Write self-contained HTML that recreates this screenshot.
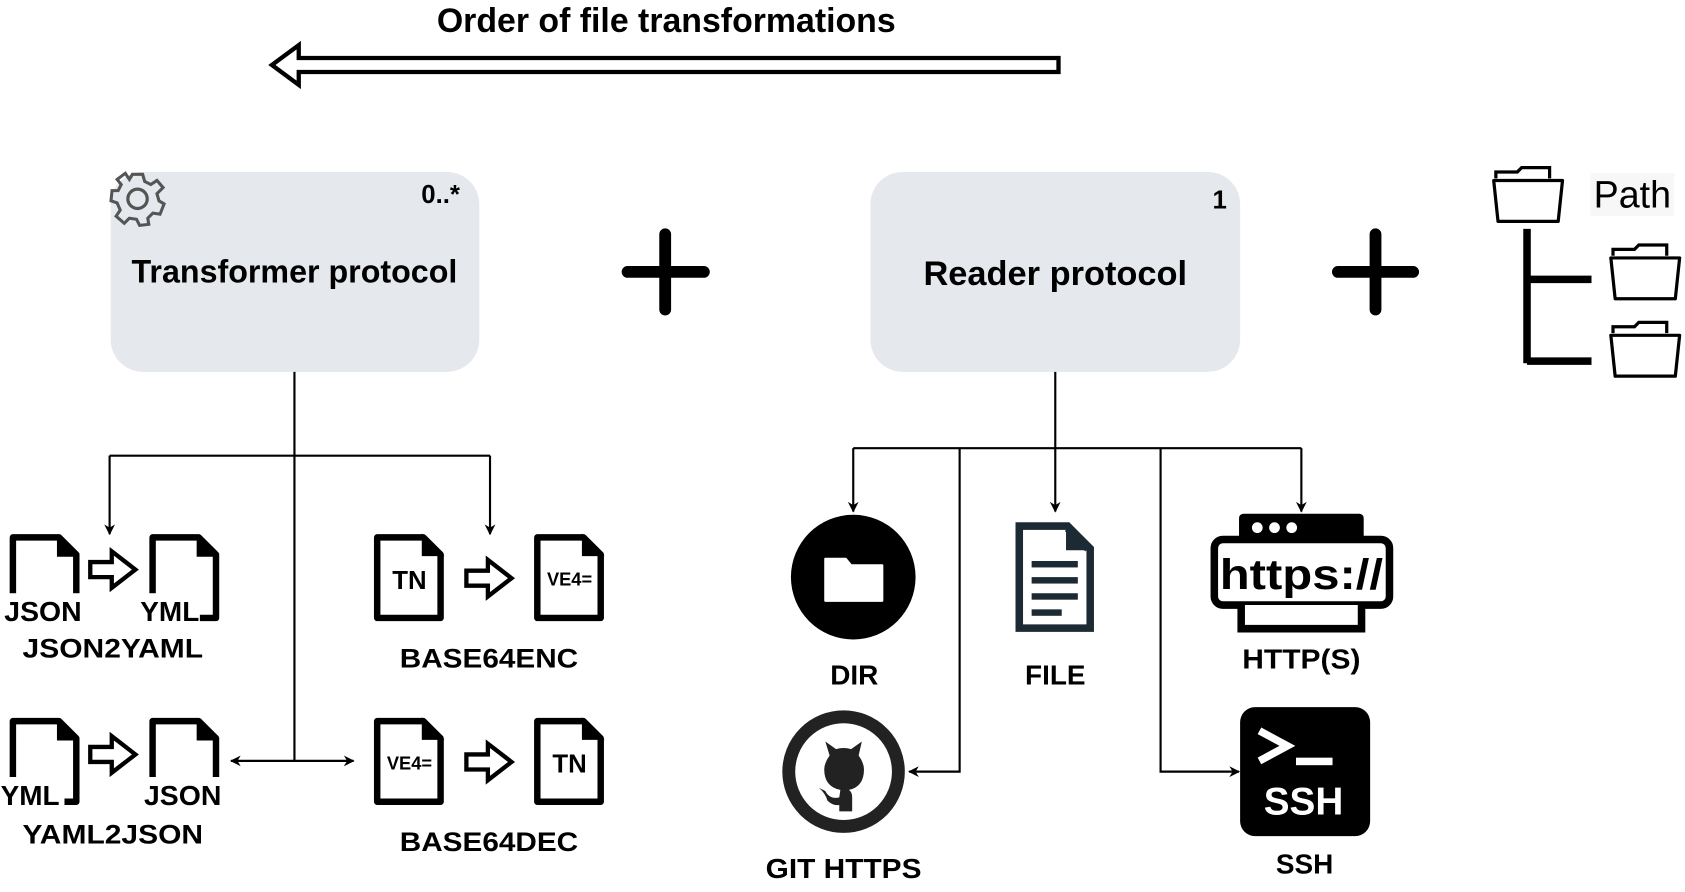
<!DOCTYPE html>
<html><head><meta charset="utf-8"><style>html,body{margin:0;padding:0;background:#fff;overflow:hidden}svg{display:block}text{font-family:"Liberation Sans",sans-serif}</style></head><body>
<svg width="1685" height="892" viewBox="0 0 1568 830" preserveAspectRatio="none" xmlns="http://www.w3.org/2000/svg">
<defs>
<marker id="ah" markerWidth="10" markerHeight="10" refX="9" refY="5" orient="auto" markerUnits="userSpaceOnUse"><path d="M0,0 L10,5 L0,10 L3,5 Z" fill="#000"/></marker>
<marker id="ahs" markerWidth="10" markerHeight="10" refX="1" refY="5" orient="auto" markerUnits="userSpaceOnUse"><path d="M10,0 L0,5 L10,10 L7,5 Z" fill="#000"/></marker>
<g id="doc"><path d="M3,3 H46 L62,19 V78 H3 Z" fill="none" stroke="#000" stroke-width="6" stroke-linejoin="round"/><path d="M46,3 V19 H62" fill="#000" stroke="#000" stroke-width="4"/></g>
<g id="doc2"><path d="M3,3 H46 L62,19 V78 H3 Z" fill="#fff" stroke="#000" stroke-width="6" stroke-linejoin="round"/><path d="M46,3 L62,19 H46 Z" fill="#000" stroke="#000" stroke-width="3"/></g>
<path id="harr" d="M2,12 H22 V2 L44,19 L22,36 V26 H2 Z" fill="#fff" stroke="#000" stroke-width="4" stroke-linejoin="miter"/>
<g id="fold"><path d="M4,12 V6 H24 L28,2 H54 V12" fill="none" stroke="#000" stroke-width="3"/><path d="M2,14 H66 L62,52 H6 Z" fill="#fff" stroke="#000" stroke-width="3" stroke-linejoin="round"/></g>
</defs>

<text x="620" y="30" font-size="31.5" font-weight="bold" text-anchor="middle">Order of file transformations</text>
<path d="M985,54 V67 H278 V79 L253,60.5 L278,42 V54 Z" fill="#fff" stroke="#000" stroke-width="4"/>

<rect x="103" y="160" width="343" height="186" rx="30" fill="#e5e8ec"/>
<text x="274" y="263" font-size="30" font-weight="bold" text-anchor="middle">Transformer protocol</text>
<text x="410" y="189" font-size="24" font-weight="bold" text-anchor="middle">0..*</text>
<g transform="translate(128,185)" fill="none" stroke="#555" stroke-width="3">
<path d="M-5,-24 H5 L7,-17 L13,-14 L19,-18 L25,-11 L19,-5 L21,2 L26,5 L22,15 L15,14 L10,19 L11,25 L2,26 L-1,20 L-8,19 L-13,24 L-21,17 L-17,11 L-20,4 L-26,2 L-25,-8 L-19,-8 L-16,-14 L-20,-19 L-12,-25 L-8,-19 Z" transform="scale(0.95)"/>
<circle r="9"/></g>

<path d="M584,253 H655 M619,218 V288" stroke="#000" stroke-width="11" stroke-linecap="round"/>
<path d="M1245,253 H1315 M1280,218 V288" stroke="#000" stroke-width="11" stroke-linecap="round"/>

<rect x="810" y="160" width="344" height="186" rx="30" fill="#e5e8ec"/>
<text x="982" y="265" font-size="32" font-weight="bold" text-anchor="middle">Reader protocol</text>
<text x="1135" y="194" font-size="24" font-weight="bold" text-anchor="middle">1</text>

<use href="#fold" x="1388" y="154"/>
<rect x="1480" y="161" width="78" height="40" fill="#f7f7f7"/>
<text x="1483" y="193" font-size="35">Path</text>
<path d="M1421,213 V338 M1421,260 H1481 M1421,336 H1481" stroke="#000" stroke-width="7" fill="none"/>
<use href="#fold" x="1497" y="226"/>
<use href="#fold" x="1497" y="298"/>

<g stroke="#000" stroke-width="2" fill="none">
<path d="M274,346 V708"/>
<path d="M102,424 H456"/>
<path d="M102,424 V497" marker-end="url(#ah)"/>
<path d="M456,424 V497" marker-end="url(#ah)"/>
<path d="M215,708 H329" marker-start="url(#ahs)" marker-end="url(#ah)"/>
<path d="M982,346 V476" marker-end="url(#ah)"/>
<path d="M794,417 H1211"/>
<path d="M794,417 V476" marker-end="url(#ah)"/>
<path d="M1211,417 V476" marker-end="url(#ah)"/>
<path d="M893,417 V718 H846" marker-end="url(#ah)"/>
<path d="M1080,417 V718 H1153" marker-end="url(#ah)"/>
</g>

<use href="#doc" x="9" y="497"/>
<rect x="4" y="552" width="74" height="28" fill="#fff"/>
<text x="40" y="578" font-size="26" font-weight="bold" text-anchor="middle" textLength="72" lengthAdjust="spacingAndGlyphs">JSON</text>
<use href="#harr" x="82" y="511"/>
<use href="#doc" x="139" y="497"/>
<rect x="128" y="552" width="58" height="28" fill="#fff"/>
<text x="158" y="578" font-size="26" font-weight="bold" text-anchor="middle">YML</text>
<text x="105" y="612" font-size="25" font-weight="bold" text-anchor="middle" textLength="168" lengthAdjust="spacingAndGlyphs">JSON2YAML</text>

<use href="#doc2" x="348" y="497"/>
<text x="381" y="548" font-size="24" font-weight="bold" text-anchor="middle">TN</text>
<use href="#harr" x="432" y="519"/>
<use href="#doc2" x="497" y="497"/>
<text x="530" y="545" font-size="17" font-weight="bold" text-anchor="middle">VE4=</text>
<text x="455" y="621" font-size="25" font-weight="bold" text-anchor="middle" textLength="166" lengthAdjust="spacingAndGlyphs">BASE64ENC</text>

<use href="#doc" x="9" y="668"/>
<rect x="0" y="723" width="60" height="28" fill="#fff"/>
<text x="28" y="749" font-size="26" font-weight="bold" text-anchor="middle">YML</text>
<use href="#harr" x="82" y="683"/>
<use href="#doc" x="139" y="668"/>
<rect x="133" y="723" width="74" height="28" fill="#fff"/>
<text x="170" y="749" font-size="26" font-weight="bold" text-anchor="middle" textLength="72" lengthAdjust="spacingAndGlyphs">JSON</text>
<text x="105" y="785" font-size="25" font-weight="bold" text-anchor="middle" textLength="168" lengthAdjust="spacingAndGlyphs">YAML2JSON</text>

<use href="#doc2" x="348" y="668"/>
<text x="381" y="716" font-size="17" font-weight="bold" text-anchor="middle">VE4=</text>
<use href="#harr" x="432" y="690"/>
<use href="#doc2" x="497" y="668"/>
<text x="530" y="719" font-size="24" font-weight="bold" text-anchor="middle">TN</text>
<text x="455" y="792" font-size="25" font-weight="bold" text-anchor="middle" textLength="166" lengthAdjust="spacingAndGlyphs">BASE64DEC</text>

<circle cx="794" cy="537" r="58" fill="#000"/>
<path d="M768,520 H787 L792,526 H821 V559 H768 Z" fill="#fff" stroke="#fff" stroke-width="2" stroke-linejoin="round"/>
<text x="795" y="637" font-size="26" font-weight="bold" text-anchor="middle">DIR</text>

<path d="M945,486 H995 L1018,509 V588 H945 Z" fill="#1c2a33"/>
<path d="M952,493 H992 V512 H1011 V581 H952 Z" fill="#fff"/>
<path d="M992,493 L1011,512" stroke="#1c2a33" stroke-width="3"/>
<g fill="#1c2a33"><rect x="960" y="522" width="43" height="6"/><rect x="960" y="537" width="43" height="6"/><rect x="960" y="552" width="43" height="6"/><rect x="960" y="567" width="28" height="6"/></g>
<text x="982" y="637" font-size="26" font-weight="bold" text-anchor="middle">FILE</text>

<rect x="1153" y="478" width="116" height="26" rx="4" fill="#000"/>
<circle cx="1170" cy="491" r="5" fill="#fff"/><circle cx="1186" cy="491" r="5" fill="#fff"/><circle cx="1202" cy="491" r="5" fill="#fff"/>
<rect x="1130" y="502" width="163" height="61" rx="8" fill="#fff" stroke="#000" stroke-width="7"/>
<path d="M1155,563 V585 H1267 V563" fill="#fff" stroke="#000" stroke-width="7"/>
<text x="1211" y="548" font-size="40" font-weight="bold" text-anchor="middle" textLength="152" lengthAdjust="spacingAndGlyphs">https://</text>
<text x="1211" y="622" font-size="26" font-weight="bold" text-anchor="middle" textLength="110" lengthAdjust="spacingAndGlyphs">HTTP(S)</text>

<circle cx="785" cy="718" r="51" fill="#fff" stroke="#222" stroke-width="12"/>
<path d="M768,690 L772,703 Q767,710 767,716 Q767,732 782,735 L781,742 Q772,744 768,736 L762,733 Q768,738 770,745 Q775,750 781,749 V755 H793 V742 Q793,737 790,735 Q804,732 804,716 Q804,710 799,703 L802,690 L792,697 Q785,695 778,697 Z" fill="#222"/>
<text x="785" y="817" font-size="26" font-weight="bold" text-anchor="middle" textLength="145" lengthAdjust="spacingAndGlyphs">GIT HTTPS</text>

<rect x="1154" y="658" width="121" height="120" rx="14" fill="#000"/>
<path d="M1172,680 L1198,694 L1172,708" fill="none" stroke="#fff" stroke-width="7"/>
<rect x="1206" y="705" width="34" height="7" fill="#fff"/>
<text x="1213" y="758" font-size="36" font-weight="bold" fill="#fff" text-anchor="middle">SSH</text>
<text x="1214" y="813" font-size="26" font-weight="bold" text-anchor="middle">SSH</text>
</svg>
</body></html>
